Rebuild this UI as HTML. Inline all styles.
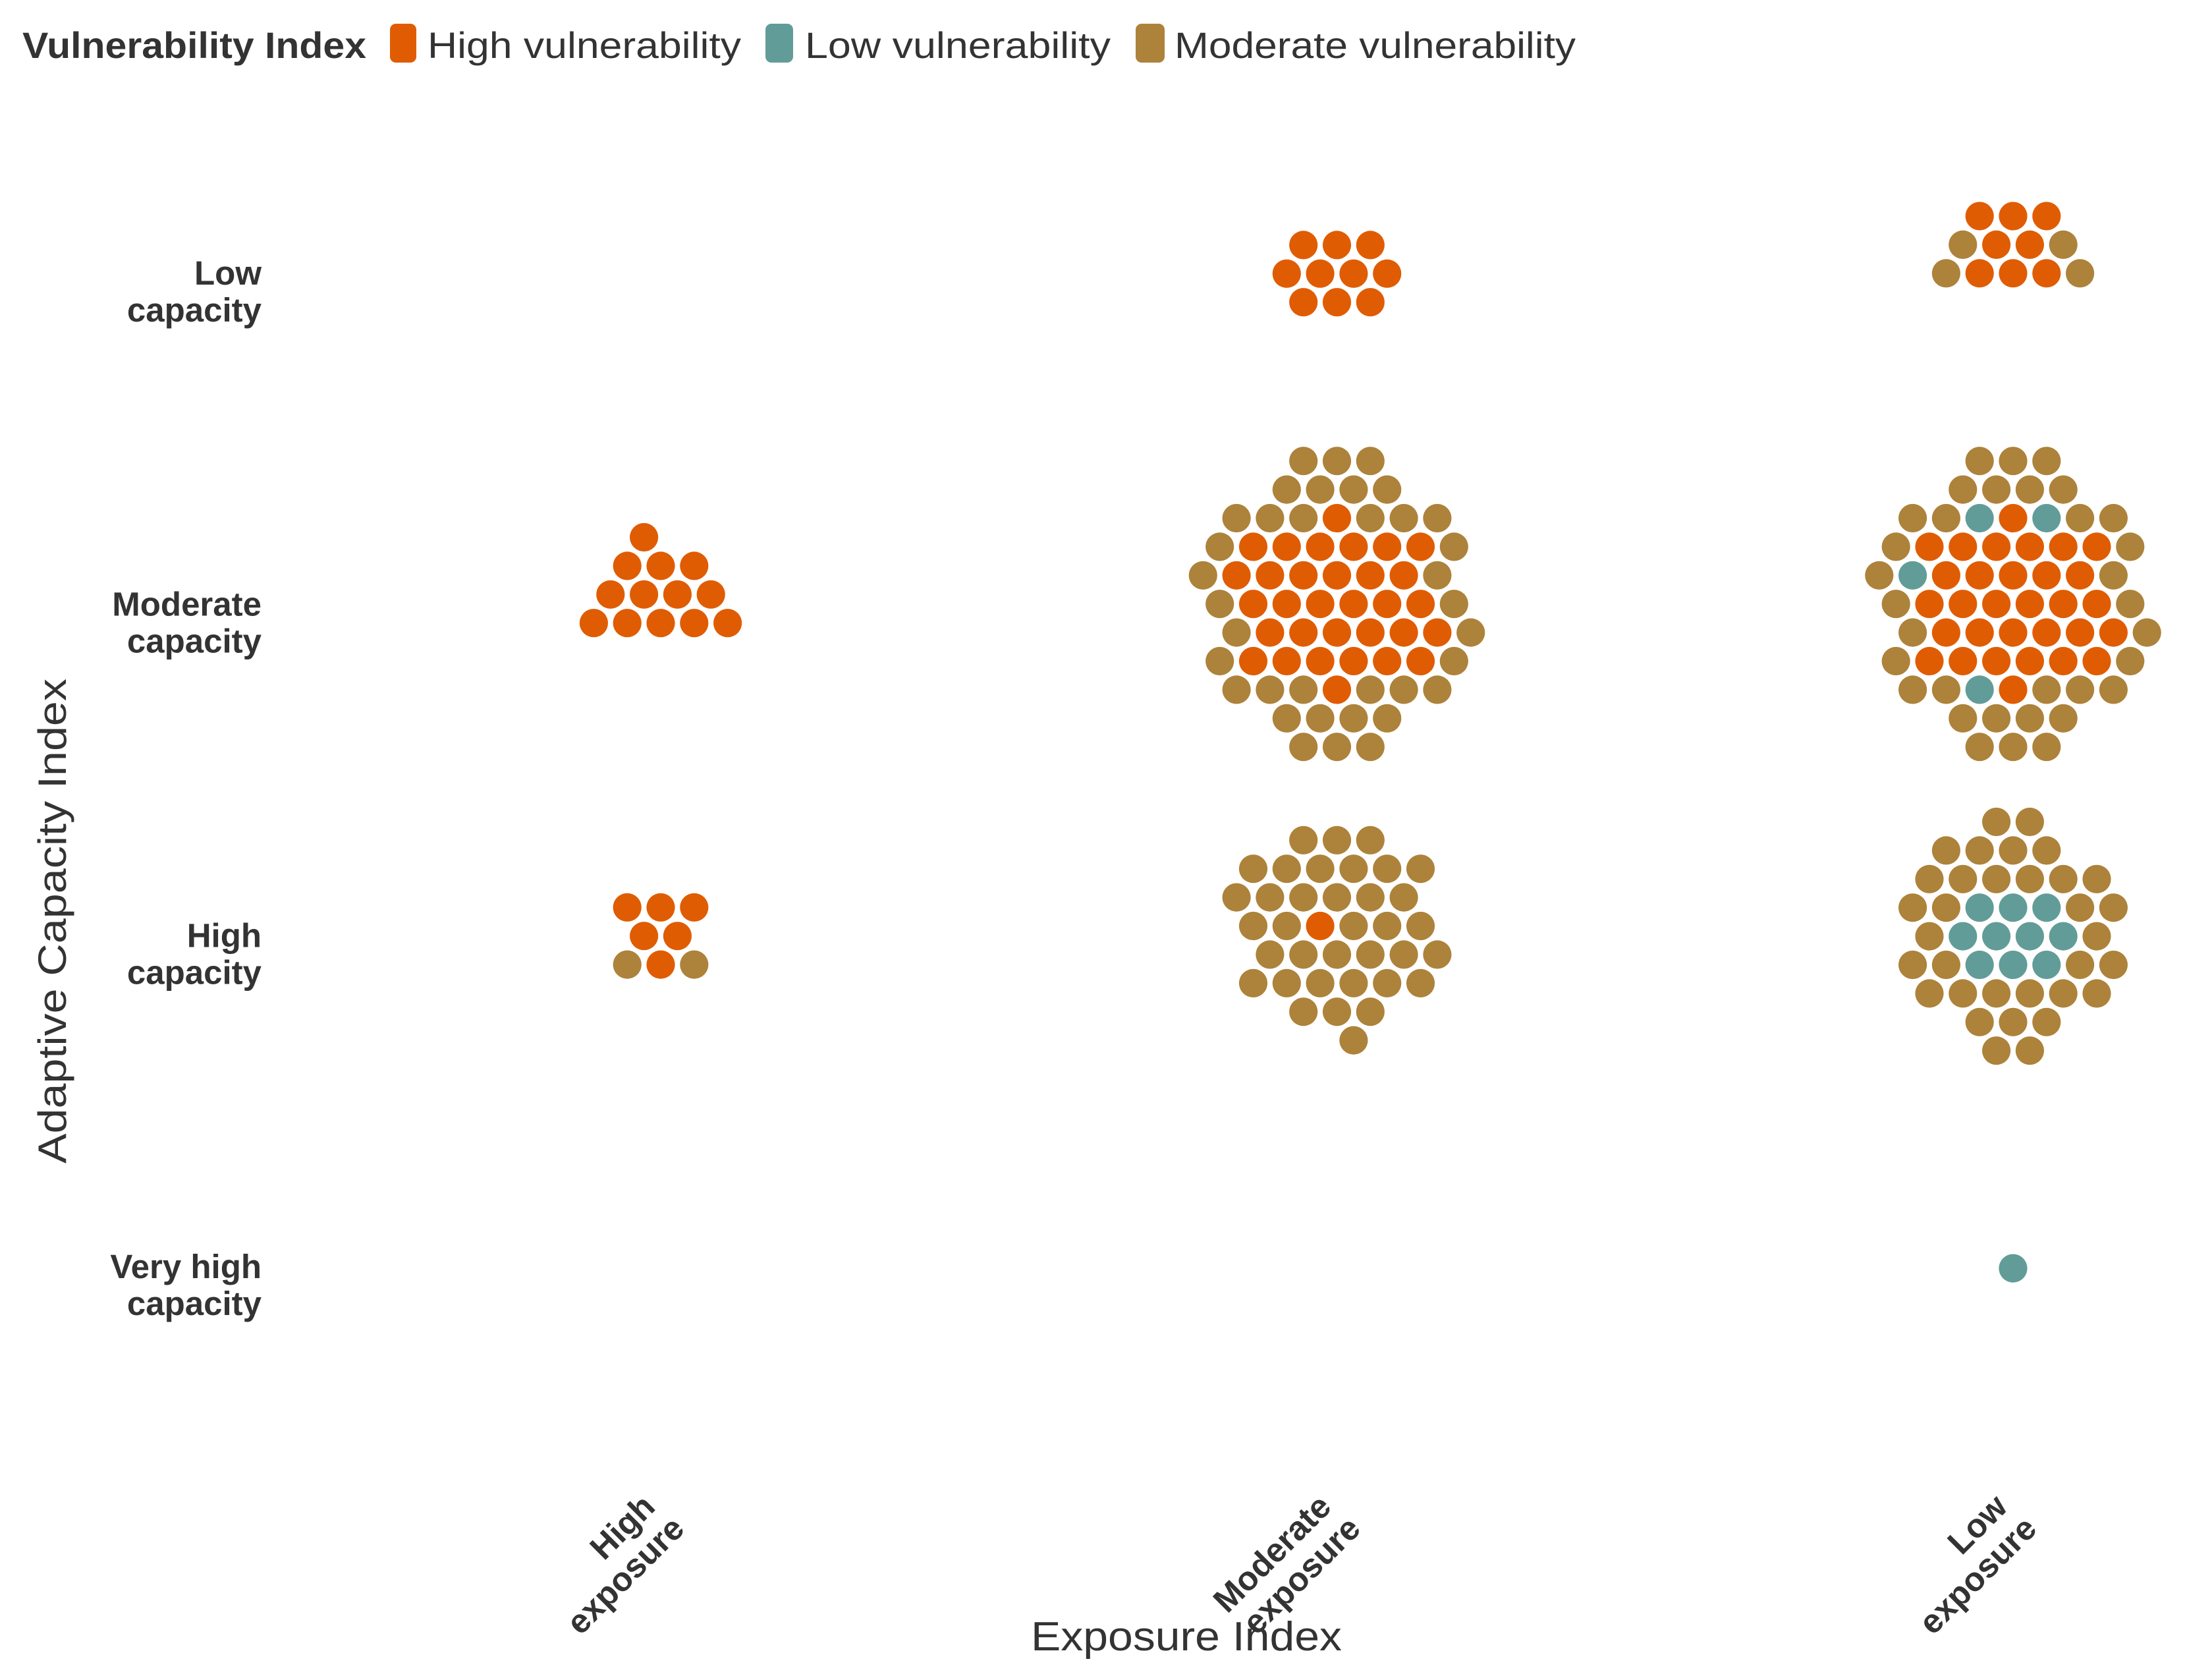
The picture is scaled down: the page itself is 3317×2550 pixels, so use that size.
<!DOCTYPE html>
<html><head><meta charset="utf-8"><style>
html,body{margin:0;padding:0;background:#fff;}
svg{display:block;}
text{font-family:"Liberation Sans",sans-serif;fill:#333;}
</style></head><body>
<svg id="chart" width="3317" height="2550" viewBox="0 0 3317 2550" xmlns="http://www.w3.org/2000/svg">
<g>
<text x="34" y="88" font-size="56" font-weight="bold" textLength="522" lengthAdjust="spacingAndGlyphs">Vulnerability Index</text>
<g><rect x="592" y="36" width="40" height="59" rx="9" fill="#E05C02"/><text x="649" y="88" font-size="56" textLength="476" lengthAdjust="spacingAndGlyphs">High vulnerability</text></g>
<g><rect x="1162" y="36" width="42" height="59" rx="9" fill="#629C98"/><text x="1222" y="88" font-size="56" textLength="464" lengthAdjust="spacingAndGlyphs">Low vulnerability</text></g>
<g><rect x="1724" y="36" width="44" height="59" rx="9" fill="#AD823A"/><text x="1783" y="88" font-size="56" textLength="609" lengthAdjust="spacingAndGlyphs">Moderate vulnerability</text></g>
</g>
<text transform="translate(100,1398) rotate(-90)" text-anchor="middle" font-size="60" textLength="736" lengthAdjust="spacingAndGlyphs">Adaptive Capacity Index</text>
<text x="1801" y="2505" text-anchor="middle" font-size="62" textLength="472" lengthAdjust="spacingAndGlyphs">Exposure Index</text>
<g id="yticks"></g>
<g id="xticks"></g>
<g id="dots"></g>
</svg>
<script>
const xCategories = ["High exposure", "Moderate exposure", "Low exposure"];
const yCategories = ["Low capacity", "Moderate capacity", "High capacity", "Very high capacity"];
const xTickLines = [["High","exposure"],["Moderate","exposure"],["Low","exposure"]];
const yTickLines = [["Low","capacity"],["Moderate","capacity"],["High","capacity"],["Very high","capacity"]];
const colorKey = {H:"#E05C02", L:"#629C98", M:"#AD823A"};
// clusters: x category index, y category index, first row offset (rows), rows of [start half-column, colors]
const clusterX = [1, 2, 0, 1, 2, 0, 1, 2, 2];
const clusterY = [0, 0, 1, 1, 1, 2, 2, 2, 3];
const clusterV0 = [-1.57, -2.58, -2.93, -5.6, -5.6, -1.57, -3.92, -4.56, -0.53];
const clusterRows = [
  [[-2,"HHH"],[-3,"HHHH"],[-2,"HHH"]],
  [[-2,"HHH"],[-3,"MHHM"],[-4,"MHHHM"]],
  [[-1,"H"],[-2,"HHH"],[-3,"HHHH"],[-4,"HHHHH"]],
  [[-2,"MMM"],[-3,"MMMM"],[-6,"MMMHMMM"],[-7,"MHHHHHHM"],[-8,"MHHHHHHM"],[-7,"MHHHHHHM"],[-6,"MHHHHHHM"],[-7,"MHHHHHHM"],[-6,"MMMHMMM"],[-3,"MMMM"],[-2,"MMM"]],
  [[-2,"MMM"],[-3,"MMMM"],[-6,"MMLHLMM"],[-7,"MHHHHHHM"],[-8,"MLHHHHHM"],[-7,"MHHHHHHM"],[-6,"MHHHHHHM"],[-7,"MHHHHHHM"],[-6,"MMLHMMM"],[-3,"MMMM"],[-2,"MMM"]],
  [[-2,"HHH"],[-1,"HH"],[-2,"MHM"]],
  [[-2,"MMM"],[-5,"MMMMMM"],[-6,"MMMMMM"],[-5,"MMHMMM"],[-4,"MMMMMM"],[-5,"MMMMMM"],[-2,"MMM"],[1,"M"]],
  [[-1,"MM"],[-4,"MMMM"],[-5,"MMMMMM"],[-6,"MMLLLMM"],[-5,"MLLLLM"],[-6,"MMLLLMM"],[-5,"MMMMMM"],[-2,"MMM"],[-1,"MM"]],
  [[0,"L"]]
];
const NS = "http://www.w3.org/2000/svg";
const xScale = i => 1003 + i * 1026.5;
const yScale = i => 440 + i * 502.7;
const pitch = 50.8, rowH = 43.4, radius = 21.6;

const yticks = document.getElementById('yticks');
yTickLines.forEach((lines, i) => {
  const t = document.createElementNS(NS, 'text');
  
  
  t.setAttribute('text-anchor', 'end');
  t.setAttribute('font-size', '51');
  t.setAttribute('font-weight', 'bold');
  lines.forEach((ln, k) => {
    const s = document.createElementNS(NS, 'tspan');
    s.setAttribute('x', 397);
    s.setAttribute('y', yScale(i) - 8 + k * 56);
    s.textContent = ln;
    t.appendChild(s);
  });
  yticks.appendChild(t);
});
const xticks = document.getElementById('xticks');
xTickLines.forEach((lines, i) => {
  const t = document.createElementNS(NS, 'text');
  
  
  t.setAttribute('text-anchor', 'end');
  t.setAttribute('font-size', '51');
  t.setAttribute('font-weight', 'bold');
  t.setAttribute('transform', 'translate(' + (xScale(i) - 6) + ',2290) rotate(-45)');
  lines.forEach((ln, k) => {
    const s = document.createElementNS(NS, 'tspan');
    s.setAttribute('x', k * 8);
    s.setAttribute('y', k * 55);
    s.textContent = ln;
    t.appendChild(s);
  });
  xticks.appendChild(t);
});
const dots = document.getElementById('dots');
clusterRows.forEach((rows, c) => {
  const g = document.createElementNS(NS, 'g');
  
  
  rows.forEach((row, r) => {
    const cy = yScale(clusterY[c]) + (clusterV0[c] + r) * rowH;
    [...row[1]].forEach((ch, k) => {
      const cx = xScale(clusterX[c]) + (row[0] + 2 * k) * pitch / 2;
      const el = document.createElementNS(NS, 'circle');
      
      
      el.setAttribute('cx', cx.toFixed(1));
      el.setAttribute('cy', cy.toFixed(1));
      el.setAttribute('r', radius);
      el.setAttribute('fill', colorKey[ch]);
      g.appendChild(el);
    });
  });
  dots.appendChild(g);
});
</script>
</body></html>
